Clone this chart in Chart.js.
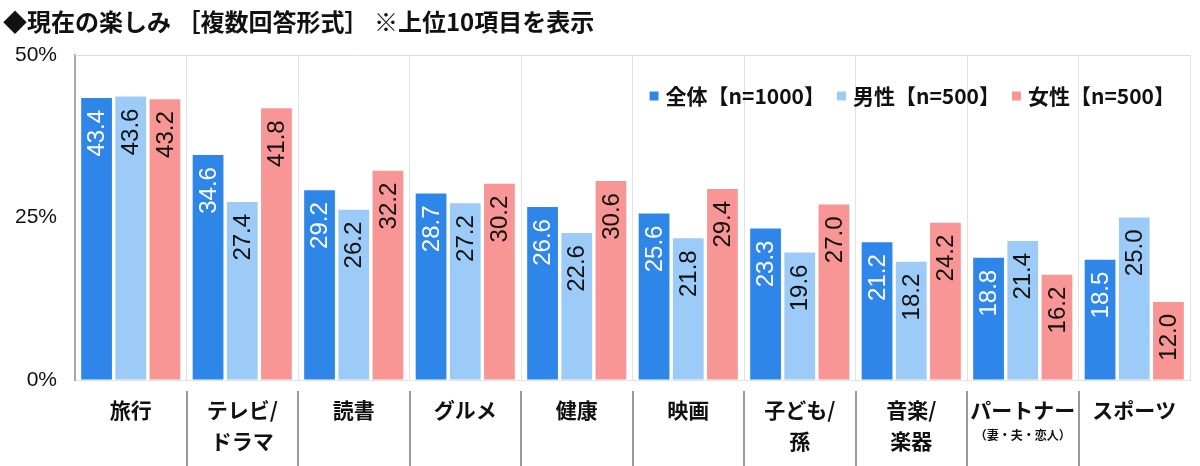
<!DOCTYPE html>
<html>
<head>
<meta charset="utf-8">
<script src="https://cdn.jsdelivr.net/npm/chart.js@4/dist/chart.umd.min.js"></script>
<style>
  html, body { margin: 0; padding: 0; background: #fff; }
  #wrap { width: 1200px; height: 466px; position: relative; }
</style>
</head>
<body>
<div id="wrap"><canvas id="c" width="1200" height="466"></canvas></div>
<script>
const titleText = '◆現在の楽しみ ［複数回答形式］ ※上位10項目を表示';
const categories = [['旅行'], ['テレビ/', 'ドラマ'], ['読書'], ['グルメ'], ['健康'], ['映画'], ['子ども/', '孫'], ['音楽/', '楽器'], ['パートナー'], ['スポーツ']];
const subLabels = ['', '', '', '', '', '', '', '', '（妻・夫・恋人）', ''];
const seriesNames = ['全体【n=1000】', '男性【n=500】', '女性【n=500】'];
const totalValues = [43.4, 34.6, 29.2, 28.7, 26.6, 25.6, 23.3, 21.2, 18.8, 18.5];
const maleValues = [43.6, 27.4, 26.2, 27.2, 22.6, 21.8, 19.6, 18.2, 21.4, 25.0];
const femaleValues = [43.2, 41.8, 32.2, 30.2, 30.6, 29.4, 27.0, 24.2, 16.2, 12.0];
const yTicks = [0, 25, 50];

const colors = ['#2e87e8', '#9dcbf7', '#f89696'];
const labelColors = ['#ffffff', '#111111', '#111111'];
const cjk = '"Noto Sans CJK JP", "Noto Sans", sans-serif';
const latin = '"Liberation Sans", Arial, sans-serif';

const decorPlugin = {
  id: 'decor',
  afterDatasetsDraw(chart) {
    const ctx = chart.ctx;
    chart.data.datasets.forEach((ds, di) => {
      const meta = chart.getDatasetMeta(di);
      meta.data.forEach((el, i) => {
        const v = ds.data[i];
        ctx.save();
        ctx.translate(el.x, el.y);
        ctx.rotate(-Math.PI / 2);
        ctx.font = '24px ' + latin;
        ctx.fillStyle = labelColors[di];
        ctx.textAlign = 'right';
        ctx.textBaseline = 'middle';
        ctx.fillText(v.toFixed(1), -12, 1);
        ctx.restore();
      });
    });
  },
  afterDraw(chart) {
    const ctx = chart.ctx;
    const area = chart.chartArea;
    const xs = chart.scales.x;
    ctx.save();
    ctx.strokeStyle = '#dcdcdc';
    ctx.lineWidth = 1;
    ctx.beginPath();
    ctx.moveTo(area.left, area.top + 0.5);
    ctx.lineTo(area.right, area.top + 0.5);
    ctx.stroke();
    ctx.restore();

    ctx.save();
    ctx.font = 'bold 24px ' + cjk;
    ctx.fillStyle = '#111';
    ctx.textAlign = 'left';
    ctx.textBaseline = 'middle';
    ctx.fillText(titleText, 3, 22);
    ctx.restore();

    const n = categories.length;
    const step = (area.right - area.left) / n;
    ctx.save();
    ctx.strokeStyle = '#9a9a9a';
    ctx.lineWidth = 2;
    for (let i = 1; i < n; i++) {
      const x = Math.round(area.left + step * i);
      ctx.beginPath();
      ctx.moveTo(x, area.bottom + 11);
      ctx.lineTo(x, 466);
      ctx.stroke();
    }
    ctx.fillStyle = '#111';
    ctx.textAlign = 'center';
    ctx.textBaseline = 'middle';
    categories.forEach((lines, i) => {
      const cx = xs.getPixelForValue(i);
      ctx.font = 'bold 21px ' + cjk;
      lines.forEach((ln, li) => {
        ctx.fillText(ln, cx, area.bottom + 30 + li * 31);
      });
      if (subLabels[i]) {
        ctx.font = 'bold 12px ' + cjk;
        ctx.fillText(subLabels[i], cx, area.bottom + 55);
      }
    });
    ctx.restore();

    ctx.save();
    ctx.font = 'bold 21px ' + cjk;
    ctx.textBaseline = 'middle';
    const box = 9, gapBox = 7, gapItem = 12;
    const widths = seriesNames.map(s => ctx.measureText(s).width);
    let total = 0;
    widths.forEach((w, i) => { total += box + gapBox + w + (i < widths.length - 1 ? gapItem : 0); });
    let x = 1175 - total;
    const y = 96;
    seriesNames.forEach((s, i) => {
      ctx.fillStyle = colors[i];
      ctx.fillRect(x, y - box / 2, box, box);
      x += box + gapBox;
      ctx.fillStyle = '#111';
      ctx.textAlign = 'left';
      ctx.fillText(s, x, y);
      x += widths[i] + gapItem;
    });
    ctx.restore();
  }
};

const datasets = [totalValues, maleValues, femaleValues].map((vals, i) => ({
  label: seriesNames[i],
  data: vals,
  backgroundColor: colors[i],
  borderWidth: 0,
  categoryPercentage: 0.92,
  barPercentage: 0.9
}));

new Chart(document.getElementById('c'), {
  type: 'bar',
  data: { labels: categories, datasets },
  options: {
    responsive: false,
    animation: false,
    devicePixelRatio: 1,
    layout: { padding: { top: 55, right: 10, left: 0, bottom: 0 } },
    plugins: {
      legend: { display: false },
      title: { display: false },
      tooltip: { enabled: false }
    },
    scales: {
      x: {
        offset: true,
        grid: { display: true, offset: true, color: '#e2e2e2', lineWidth: 1, drawTicks: false },
        border: { display: true, color: '#e2e2e2', width: 1 },
        ticks: { display: false },
        afterFit(scale) { scale.height = 86; }
      },
      y: {
        min: 0,
        max: 50,
        afterBuildTicks(scale) { scale.ticks = yTicks.map(v => ({ value: v })); },
        grid: { display: true, drawOnChartArea: false, drawTicks: false },
        border: { display: true, color: '#a8a8a8', width: 2 },
        ticks: {
          padding: 18,
          color: '#111',
          font: { family: latin, size: 21 },
          callback: v => v + '%'
        },
        afterFit(scale) { scale.width = 75; }
      }
    }
  },
  plugins: [decorPlugin]
});
</script>
</body>
</html>
